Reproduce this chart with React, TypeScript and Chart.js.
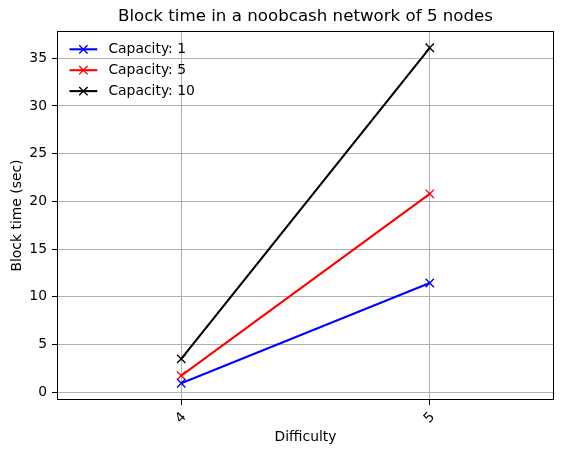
import React, { useEffect, useRef } from 'react';
import { Chart, registerables } from 'chart.js';

Chart.register(...registerables);

// ---- data ----
const difficulties = [4, 5];
const capacity1 = [0.95, 11.45];
const capacity5 = [1.75, 20.8];
const capacity10 = [3.5, 36.1];
const seriesLabels = ['Capacity: 1', 'Capacity: 5', 'Capacity: 10'];
const seriesValues = [capacity1, capacity5, capacity10];
const seriesColors = ['#0000ff', '#ff0000', '#000000'];
const yTickValues = [0, 5, 10, 15, 20, 25, 30, 35];
const xTickValues = [4, 5];
const titleText = 'Block time in a noobcash network of 5 nodes';
const xAxisTitle = 'Difficulty';
const yAxisTitle = 'Block time (sec)';

const FONT = "'DejaVu Sans', sans-serif";
const FS = 13.9;

const allVals = seriesValues.flat();
const yLo = Math.min(...allVals);
const yHi = Math.max(...allVals);
const yMargin = (yHi - yLo) * 0.05;

const frameAndLegend = {
  id: 'frameAndLegend',
  afterDatasetsDraw(chart: any) {
    const { ctx, chartArea } = chart;
    ctx.save();
    // frame
    ctx.strokeStyle = '#000';
    ctx.lineWidth = 1;
    const l = Math.round(chartArea.left) + 0.5;
    const t = Math.round(chartArea.top) + 0.5;
    const r = Math.round(chartArea.right) - 0.5;
    const b = Math.round(chartArea.bottom) - 0.5;
    ctx.strokeRect(l, t, r - l, b - t);
    // legend
    const x0 = chartArea.left + 12.5;
    const handleLen = 27.8;
    const textX = x0 + handleLen + 11.1;
    const rowY0 = chartArea.top + 18.3;
    const rowStep = 20.9;
    ctx.font = `${FS}px ${FONT}`;
    ctx.textBaseline = 'middle';
    ctx.textAlign = 'left';
    seriesLabels.forEach((label, i) => {
      const y = rowY0 + i * rowStep;
      const c = seriesColors[i];
      ctx.strokeStyle = c;
      ctx.lineWidth = 2.08;
      ctx.beginPath();
      ctx.moveTo(x0, y);
      ctx.lineTo(x0 + handleLen, y);
      ctx.stroke();
      const cx = x0 + handleLen / 2;
      const h = 4.17;
      ctx.lineWidth = 1.39;
      ctx.beginPath();
      ctx.moveTo(cx - h, y - h);
      ctx.lineTo(cx + h, y + h);
      ctx.moveTo(cx - h, y + h);
      ctx.lineTo(cx + h, y - h);
      ctx.stroke();
      ctx.fillStyle = '#000';
      ctx.fillText(label, textX, y + 0.5);
    });
    ctx.restore();
  },
};

export default function App() {
  const ref = useRef<HTMLCanvasElement>(null);
  useEffect(() => {
    if (!ref.current) return;
    const chart = new Chart(ref.current, {
      type: 'line',
      data: {
        datasets: seriesValues.map((vals, i) => ({
          label: seriesLabels[i],
          data: vals.map((v, j) => ({ x: difficulties[j], y: v })),
          borderColor: seriesColors[i],
          backgroundColor: seriesColors[i],
          borderWidth: 2.08,
          pointStyle: 'crossRot',
          pointRadius: 5.9,
          pointBorderWidth: 1.39,
          pointBorderColor: seriesColors[i],
          pointBackgroundColor: seriesColors[i],
          pointHoverRadius: 5.9,
          tension: 0,
          fill: false,
        })),
      },
      options: {
        responsive: false,
        animation: false,
        events: [],
        layout: { padding: { top: 0, left: 0, right: 12, bottom: 0 } },
        plugins: {
          legend: { display: false },
          tooltip: { enabled: false },
          title: {
            display: true,
            text: titleText,
            fullSize: false,
            color: '#000',
            font: { family: FONT, size: 16.67, weight: 'normal' },
            padding: { top: 6.5, bottom: 4.5 },
          },
        },
        scales: {
          x: {
            type: 'linear',
            min: difficulties[0] - 0.5,
            max: difficulties[difficulties.length - 1] + 0.5,
            afterBuildTicks: (axis: any) => {
              axis.ticks = xTickValues.map((v) => ({ value: v }));
            },
            afterFit: (axis: any) => {
              axis.height = 55;
            },
            ticks: {
              color: '#000',
              font: { family: FONT, size: FS },
              minRotation: 45,
              maxRotation: 45,
              padding: 4,
              labelOffset: 3,
              autoSkip: false,
              callback: (v: any) => String(v),
            },
            grid: { color: '#b0b0b0', lineWidth: 1, tickColor: '#000', tickWidth: 1, tickLength: 5, drawTicks: true },
            border: { display: false },
            title: {
              display: true,
              text: xAxisTitle,
              color: '#000',
              font: { family: FONT, size: FS },
              padding: { top: 0, bottom: 9.7 },
            },
          },
          y: {
            type: 'linear',
            min: yLo - yMargin,
            max: yHi + yMargin,
            afterBuildTicks: (axis: any) => {
              axis.ticks = yTickValues.map((v) => ({ value: v }));
            },
            afterFit: (axis: any) => {
              axis.width = 57;
            },
            ticks: {
              color: '#000',
              font: { family: FONT, size: FS },
              padding: 5,
              callback: (v: any) => String(v),
            },
            grid: { color: '#b0b0b0', lineWidth: 1, tickColor: '#000', tickWidth: 1, tickLength: 5, drawTicks: true },
            border: { display: false },
            title: {
              display: true,
              text: yAxisTitle,
              color: '#000',
              font: { family: FONT, size: FS },
              padding: { top: 8.7, bottom: 0 },
            },
          },
        },
      },
      plugins: [frameAndLegend],
    } as any);
    return () => chart.destroy();
  }, []);
  return (
    <div style={{ position: 'fixed', left: 0, top: 0, width: 566, height: 455, background: '#fff' }}>
      <canvas ref={ref} width={566} height={455} style={{ display: 'block' }} />
    </div>
  );
}
